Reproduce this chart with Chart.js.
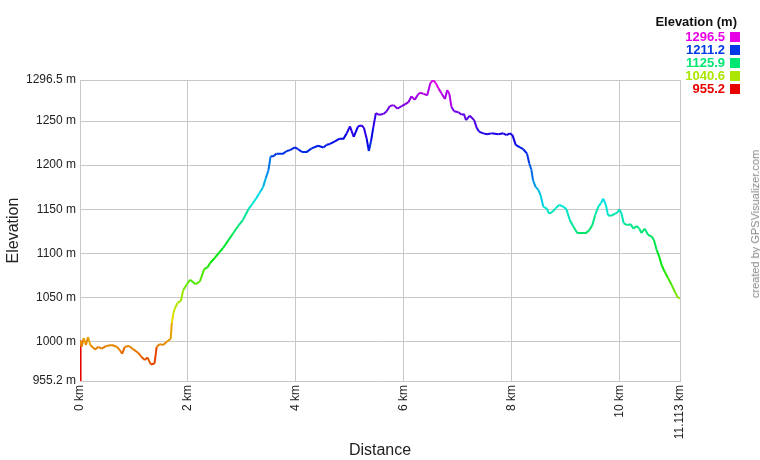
<html>
<script src="https://cdn.jsdelivr.net/npm/chart.js@4.4.0/dist/chart.umd.min.js"></script>
<style>
  body { margin: 0; background: #fff; }
  #wrap { position: relative; width: 760px; height: 460px; font-family: "Liberation Sans", Arial, sans-serif; }
  #legendTitle { position: absolute; right: 23px; top: 14px; font-size: 13px; font-weight: bold; color: #111; }
  #legend { position: absolute; right: 20px; top: 30px; }
  .row { display: flex; justify-content: flex-end; align-items: center; height: 13px; font-size: 13px; font-weight: bold; }
  .sw { width: 10px; height: 10px; margin-left: 5px; }
  #credit { position: absolute; left: 755px; top: 224px; transform: translate(-50%, -50%) rotate(-90deg); font-size: 11px; color: #888; white-space: nowrap; }
</style>
<body>
<div id="wrap">
  <canvas id="myChart" width="760" height="460"></canvas>
  <div id="legendTitle">Elevation (m)</div>
  <div id="legend"></div>
  <div id="credit">created by GPSVisualizer.com</div>
</div>

<script>
    // track profile, distance (km) and elevation (m)
    var distance = [0, 0.01, 0.03, 0.07, 0.11, 0.15, 0.19, 0.28, 0.34, 0.40, 0.49, 0.59, 0.68, 0.74, 0.78, 0.83, 0.91, 0.99, 1.08, 1.13,
        1.20, 1.25, 1.31, 1.38, 1.42, 1.48, 1.54, 1.61, 1.68, 1.70, 1.73, 1.76, 1.81, 1.87, 1.91, 1.98, 2.04, 2.14, 2.22, 2.30,
        2.36, 2.41, 2.50, 2.58, 2.65, 2.75, 2.84, 2.93, 3.02, 3.12, 3.18, 3.26, 3.33, 3.39, 3.44, 3.49, 3.53, 3.58, 3.64, 3.70,
        3.76, 3.83, 3.89, 3.98, 4.04, 4.11, 4.20, 4.29, 4.41, 4.51, 4.57, 4.63, 4.72, 4.81, 4.88, 4.94, 5.00, 5.07, 5.15, 5.22,
        5.26, 5.31, 5.35, 5.39, 5.43, 5.48, 5.54, 5.62, 5.68, 5.74, 5.81, 5.88, 5.96, 6.02, 6.08, 6.14, 6.20, 6.26, 6.30, 6.36,
        6.43, 6.49, 6.54, 6.59, 6.64, 6.70, 6.76, 6.80, 6.84, 6.88, 6.93, 7.01, 7.07, 7.11, 7.15, 7.22, 7.30, 7.35, 7.39, 7.47,
        7.54, 7.62, 7.75, 7.84, 7.90, 7.96, 8.01, 8.07, 8.15, 8.21, 8.28, 8.32, 8.36, 8.39, 8.44, 8.49, 8.53, 8.58, 8.64, 8.69,
        8.75, 8.81, 8.88, 8.95, 9.01, 9.07, 9.14, 9.21, 9.29, 9.37, 9.43, 9.49, 9.54, 9.60, 9.65, 9.69, 9.74, 9.78, 9.85, 9.91,
        9.95, 9.99, 10.03, 10.07, 10.14, 10.20, 10.25, 10.31, 10.36, 10.40, 10.46, 10.52, 10.59, 10.63, 10.68, 10.73, 10.77, 10.83, 10.89, 10.96,
        11.02, 11.07, 11.113];
    var elevation = [955.2, 1001, 994, 1004, 996, 1005, 996, 991, 994, 992, 995, 996, 994, 990, 986, 994, 995, 991, 987, 983,
        979, 982, 974, 975, 994, 997, 996, 1000, 1003, 1021, 1032, 1038, 1044, 1046, 1058, 1065, 1070, 1065, 1068, 1082,
        1084, 1089, 1095, 1101, 1106, 1115, 1123, 1131, 1138, 1150, 1155, 1162, 1169, 1175, 1185, 1194, 1210, 1210, 1213, 1213,
        1213, 1216, 1217, 1220, 1218, 1215, 1215, 1219, 1222, 1220, 1223, 1224, 1227, 1230, 1230, 1236, 1244, 1232, 1244, 1245,
        1242, 1230, 1216, 1227, 1242, 1259, 1257, 1258, 1261, 1267, 1268, 1264, 1267, 1269, 1271, 1278, 1274, 1280, 1282, 1281,
        1279, 1293, 1296.5, 1293, 1287, 1281, 1275, 1285, 1281, 1266, 1261, 1260, 1257, 1258, 1251, 1256, 1251, 1242, 1238, 1236,
        1235, 1236, 1235, 1236, 1234, 1236, 1234, 1223, 1220, 1218, 1213, 1202, 1195, 1183, 1175, 1172, 1166, 1153, 1151, 1145,
        1147, 1151, 1155, 1153, 1150, 1138, 1130, 1123, 1123, 1123, 1126, 1132, 1143, 1153, 1157, 1162, 1155, 1143, 1143, 1145,
        1146, 1150, 1145, 1134, 1132, 1133, 1128, 1131, 1128, 1123, 1128, 1121, 1119, 1115, 1104, 1096, 1087, 1079, 1072, 1064,
        1056, 1050, 1049];

    var xTicks = [0, 2, 4, 6, 8, 10, 11.113];
    var yTicks = [955.2, 1000, 1050, 1100, 1150, 1200, 1250, 1296.5];
    var legendValues = [1296.5, 1211.2, 1125.9, 1040.6, 955.2];

    var minEle = 955.2, maxEle = 1296.5;

    function eleColor(v) {
        var hue = (v - minEle) / (maxEle - minEle) * 300;
        return 'hsl(' + hue.toFixed(1) + ',100%,45%)';
    }

    var points = distance.map(function (d, i) { return { x: d, y: elevation[i] }; });

    // legend
    var legendDiv = document.getElementById('legend');
    legendValues.forEach(function (v) {
        var row = document.createElement('div');
        row.className = 'row';
        row.innerHTML = '<span style="color:' + eleColor(v) + '">' + v.toFixed(1) + '</span><span class="sw" style="background:' + eleColor(v) + '"></span>';
        legendDiv.appendChild(row);
    });

    var gridColor = '#c8c8c8';
    var fontFamily = '"Liberation Sans", Arial, sans-serif';

    new Chart("myChart", {
        type: "line",
        data: {
            datasets: [{
                data: points,
                borderWidth: 2,
                pointRadius: 0,
                tension: 0,
                borderColor: '#0033ee',
                segment: {
                    borderColor: function (ctx) { return eleColor(ctx.p0.parsed.y); }
                }
            }]
        },
        options: {
            responsive: false,
            animation: false,
            layout: { padding: { left: 0, top: 80, right: 80, bottom: 0 } },
            plugins: { legend: { display: false }, tooltip: { enabled: false } },
            scales: {
                x: {
                    type: 'linear',
                    min: 0,
                    max: 11.113,
                    afterBuildTicks: function (scale) { scale.ticks = xTicks.map(function (v) { return { value: v }; }); },
                    afterFit: function (scale) { scale.height = 79; },
                    grid: { color: gridColor, drawTicks: false },
                    border: { color: gridColor },
                    ticks: {
                        minRotation: 90, maxRotation: 90, padding: 4,
                        color: '#222', font: { family: fontFamily, size: 12 },
                        callback: function (v) { return v + ' km'; }
                    },
                    title: {
                        display: true, text: 'Distance', color: '#222',
                        font: { family: fontFamily, size: 16 }, padding: { top: 0, bottom: 0 }
                    }
                },
                y: {
                    min: minEle,
                    max: maxEle,
                    afterBuildTicks: function (scale) { scale.ticks = yTicks.map(function (v) { return { value: v }; }); },
                    afterFit: function (scale) { scale.width = 80; },
                    grid: { color: gridColor, drawTicks: false },
                    border: { color: gridColor },
                    ticks: {
                        padding: 4, color: '#222', font: { family: fontFamily, size: 12 },
                        callback: function (v) { return v + ' m'; }
                    },
                    title: {
                        display: true, text: 'Elevation', color: '#222',
                        font: { family: fontFamily, size: 16 }, padding: { top: 4, bottom: 0 }
                    }
                }
            }
        }
    });
</script>
</body>
</html>
